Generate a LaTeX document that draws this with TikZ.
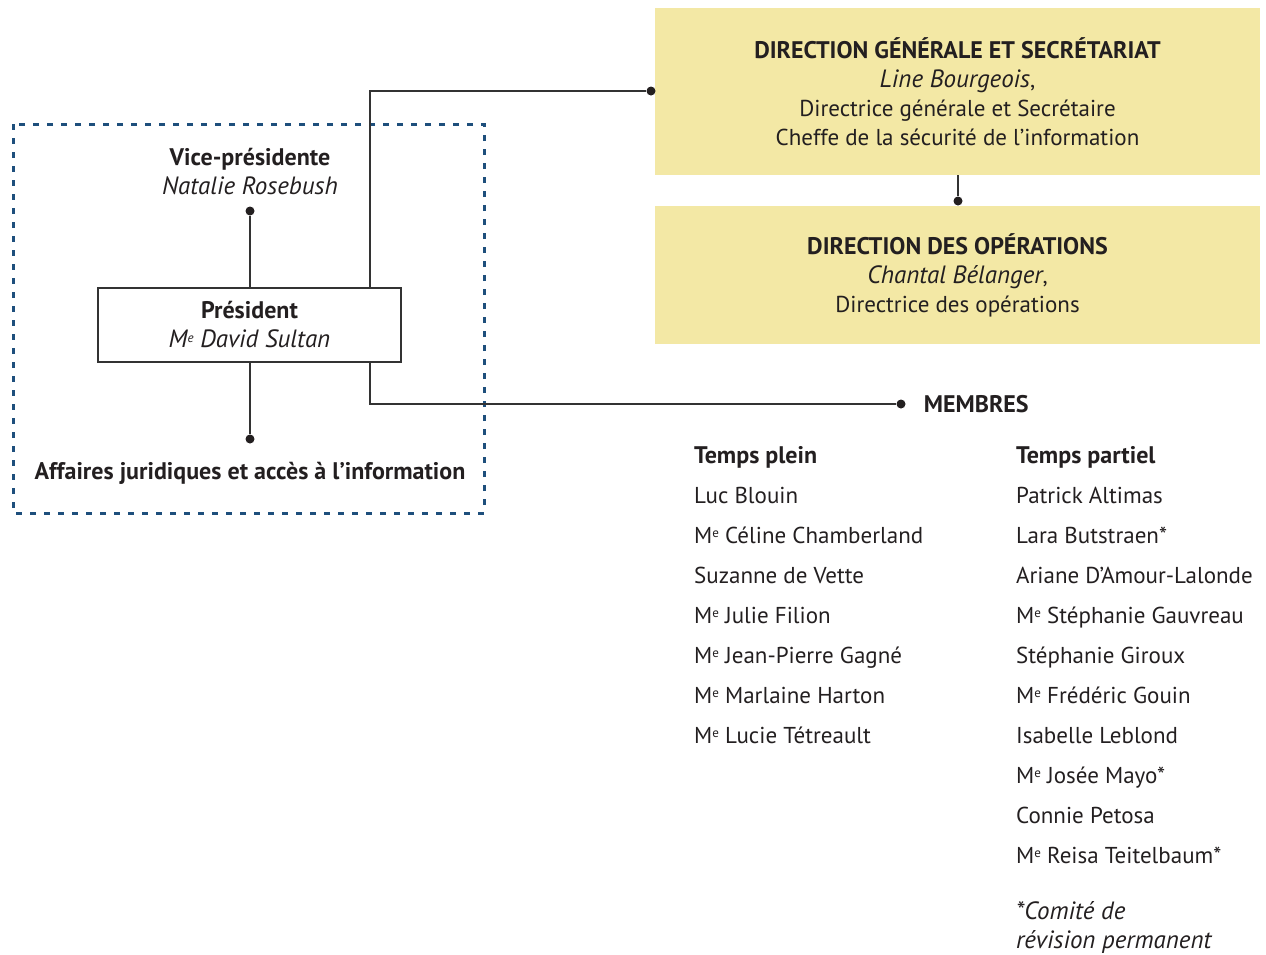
\documentclass[tikz,border=0pt]{standalone}
\usepackage{fontspec}
\setmainfont{PT Sans}
\usetikzlibrary{positioning,calc}

\definecolor{jaune}{HTML}{F3E8A5}
\definecolor{bleu}{HTML}{1E4F7C}
\definecolor{encre}{HTML}{231F20}
\definecolor{trait}{HTML}{333333}

\newcommand{\Me}{M\raisebox{0.45ex}{\fontsize{13}{13}\selectfont e}}
\newcommand{\tgras}{\fontsize{24}{29}\selectfont\bfseries}
\newcommand{\tital}{\fontsize{25}{29}\selectfont\itshape}

\begin{document}
\begin{tikzpicture}[x=1pt,y=-1pt,text=encre,
			font=\fontsize{23}{29}\selectfont,
			dir/.style = {fill=jaune, minimum width=605pt, align=center, inner sep=0pt},
			pbox/.style = {draw=trait, line width=1.3pt, minimum width=303pt, minimum height=74pt, align=center, inner sep=0pt},
			dot/.style = {circle, fill=encre, inner sep=0pt, minimum size=9pt},
			link/.style = {draw=trait, line width=1.3pt},
			mem/.style = {anchor=base west, inner sep=0pt},
			titre/.style = {inner sep=0pt, font=\tgras}
			]
			\useasboundingbox (0,0) rectangle (1266,954);
			% directions
			\node [dir, minimum height=167pt] (dg) at (957.5,91.5) {{\tgras DIRECTION GÉNÉRALE ET SECRÉTARIAT}\\ {\tital Line Bourgeois},\\ Directrice générale et Secrétaire\\ Cheffe de la sécurité de l’information};
			\node [dir, minimum height=138pt] (dop) at (957.5,275) {{\tgras DIRECTION DES OPÉRATIONS}\\ {\tital Chantal Bélanger},\\ Directrice des opérations};
			\node [dot] (dopdot) at (958,201) {};
			\draw[link] (dopdot |- dg.south) -- (dopdot);
			% presidence
			\draw[bleu, line width=3pt, dash pattern=on 6pt off 8pt] (13,124) rectangle (484,513);
			\node [pbox] (pres) at (249.5,325) {{\tgras Président}\\ {\tital \Me{} David Sultan}};
			\node [align=center, inner sep=0pt] (vp) at (250,172) {{\tgras Vice-présidente}\\ {\tital Natalie Rosebush}};
			\node [dot] (vpdot) at (250,211) {};
			\node [dot] (ajdot) at (250,439) {};
			\node [titre] (aj) at (250,473) {Affaires juridiques et accès à l’information};
			\draw[link] (vpdot) -- (vpdot |- pres.north);
			\draw[link] (ajdot |- pres.south) -- (ajdot);
			\coordinate (coude) at (370,0);
			\node [dot] (dgdot) at (651,91) {};
			\node [dot] (mbdot) at (901,404) {};
			\draw[link] (pres.north -| coude) |- (dgdot);
			\draw[link] (pres.south -| coude) |- (mbdot);
			\node [titre, right=18pt of mbdot] (membres) {MEMBRES};
			% membres
			\node [mem, font=\tgras] (tp) at (694,463) {Temps plein};
			\node [below=40pt of tp.base west, mem] (tp1) {Luc Blouin};
			\node [below=40pt of tp1.base west, mem] (tp2) {\Me{} Céline Chamberland};
			\node [below=40pt of tp2.base west, mem] (tp3) {Suzanne de Vette};
			\node [below=40pt of tp3.base west, mem] (tp4) {\Me{} Julie Filion};
			\node [below=40pt of tp4.base west, mem] (tp5) {\Me{} Jean-Pierre Gagné};
			\node [below=40pt of tp5.base west, mem] (tp6) {\Me{} Marlaine Harton};
			\node [below=40pt of tp6.base west, mem] (tp7) {\Me{} Lucie Tétreault};
			\node [mem, font=\tgras] (tq) at (1016,463) {Temps partiel};
			\node [below=40pt of tq.base west, mem] (tq1) {Patrick Altimas};
			\node [below=40pt of tq1.base west, mem] (tq2) {Lara Butstraen*};
			\node [below=40pt of tq2.base west, mem] (tq3) {Ariane D’Amour-Lalonde};
			\node [below=40pt of tq3.base west, mem] (tq4) {\Me{} Stéphanie Gauvreau};
			\node [below=40pt of tq4.base west, mem] (tq5) {Stéphanie Giroux};
			\node [below=40pt of tq5.base west, mem] (tq6) {\Me{} Frédéric Gouin};
			\node [below=40pt of tq6.base west, mem] (tq7) {Isabelle Leblond};
			\node [below=40pt of tq7.base west, mem] (tq8) {\Me{} Josée Mayo*};
			\node [below=40pt of tq8.base west, mem] (tq9) {Connie Petosa};
			\node [below=40pt of tq9.base west, mem] (tq10) {\Me{} Reisa Teitelbaum*};
			\node [below=56pt of tq10.base west, mem, font=\tital] (note1) {*Comité de};
			\node [below=29pt of note1.base west, mem, font=\tital] (note2) {révision permanent};
\end{tikzpicture}
\end{document}
